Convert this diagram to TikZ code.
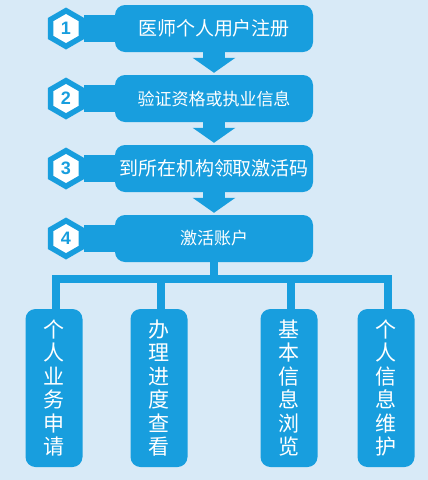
\documentclass[tikz,border=0pt]{standalone}
\usepackage{fontspec}
\setmainfont{Noto Sans CJK SC}
\newfontfamily\numfont{Liberation Sans}
\usetikzlibrary{shapes.geometric,arrows.meta}
\definecolor{skyblue}{RGB}{24,158,222}
\definecolor{paleblue}{RGB}{216,234,247}
\tikzset{
  stepbox/.style={fill=skyblue,text=white,rounded corners=10pt,minimum width=198pt,minimum height=47pt,inner sep=0pt},
  hexnum/.style={regular polygon,regular polygon sides=6,shape border rotate=30,fill=skyblue,minimum size=42pt,inner sep=0pt},
  hexcore/.style={regular polygon,regular polygon sides=6,shape border rotate=30,fill=white,minimum size=29pt,inner sep=0pt,text=skyblue,font=\numfont\bfseries\fontsize{18}{18}\selectfont},
  leafbox/.style={fill=skyblue,text=white,rounded corners=10pt,minimum width=57pt,minimum height=158pt,inner sep=0pt,align=center,font=\fontsize{21}{23.4}\selectfont},
  flow/.style={skyblue,line width=22pt,-{Triangle[width=42pt,length=15pt]},shorten >=2pt},
  tree/.style={skyblue,line width=8pt},
  tab/.style={skyblue,line width=27pt}
}
\begin{document}
\begin{tikzpicture}[x=1pt,y=-1pt]
\fill[paleblue] (0,0) rectangle (428,480);
\useasboundingbox (0,0) rectangle (428,480);

% steps
\foreach \i/\y/\txt/\fs in {1/28.5/医师个人用户注册/19,2/98.5/验证资格或执业信息/17,3/168.5/到所在机构领取激活码/19,4/238.5/激活账户/17}
{
	\node[stepbox,font=\fontsize{\fs}{\fs}\selectfont] (b\i) at (214,\y) {\txt};
	\node[hexnum] (h\i) at (66,\y) {};
	\node[hexcore] (n\i) at (h\i.center) {\i};
	\draw[tab] (h\i.east) -- (b\i.west);
}
\foreach \i/\j in {1/2,2/3,3/4}
	\draw[flow] (b\i.south) -- (b\j.north);

% tree
\coordinate (bus) at (214,279);
\draw[tree] (b4.south) -- (bus);
\foreach \n/\x/\txt in {la/54/{个\\人\\业\\务\\申\\请},lb/159/{办\\理\\进\\度\\查\\看},lc/289/{基\\本\\信\\息\\浏\\览},ld/386/{个\\人\\信\\息\\维\\护}}
{
	\node[leafbox] (\n) at (\x,388) {\txt};
	\draw[tree] ([xshift=2pt]\n.north) |- (bus);
}
\end{tikzpicture}
\end{document}
